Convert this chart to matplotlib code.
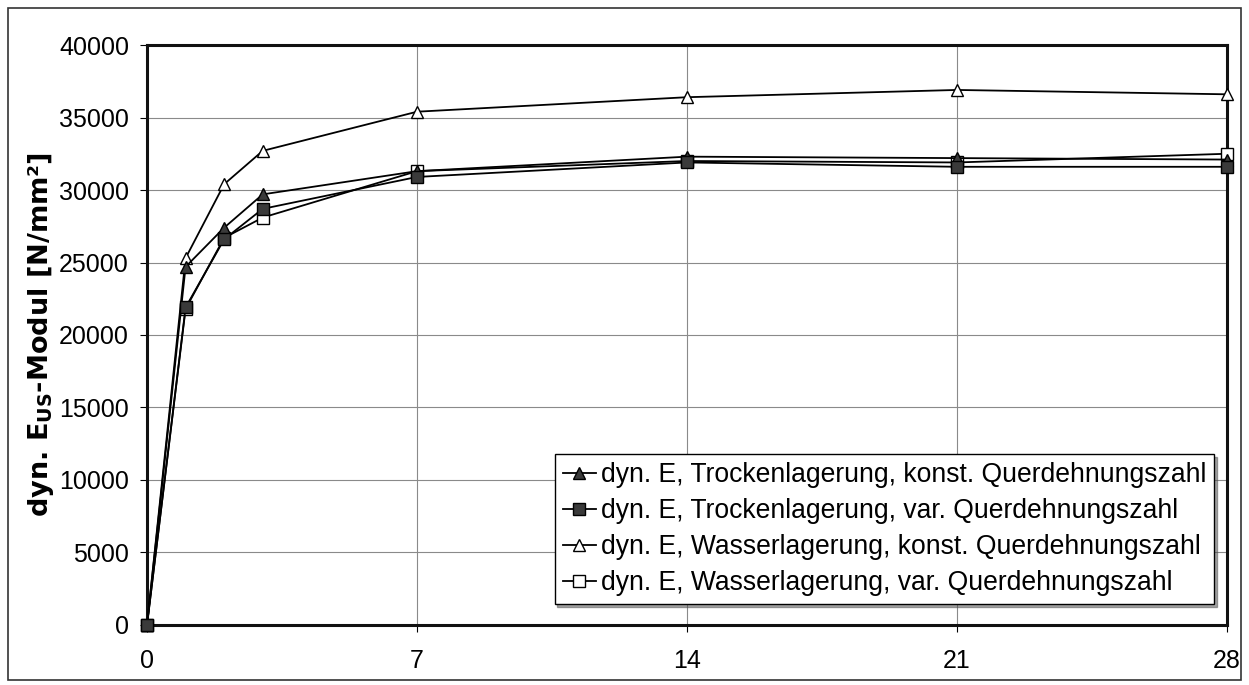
import matplotlib
matplotlib.use("Agg")
import matplotlib.pyplot as plt
from matplotlib.patches import Rectangle

plt.rcParams["font.family"] = ["Liberation Sans", "DejaVu Sans"]
plt.rcParams["mathtext.fontset"] = "custom"
plt.rcParams["mathtext.rm"] = "DejaVu Sans"
plt.rcParams["mathtext.bf"] = "DejaVu Sans:bold"

# Age of the specimens in days
days = [0, 1, 2, 3, 7, 14, 21, 28]

# Dynamic modulus of elasticity in N/mm²
trocken_konst = [0, 24700, 27400, 29700, 31300, 32300, 32200, 32100]
trocken_var = [0, 21900, 26600, 28700, 30900, 31900, 31600, 31600]
wasser_konst = [0, 25300, 30400, 32700, 35400, 36400, 36900, 36600]
wasser_var = [0, 21800, 26700, 28100, 31300, 32000, 31900, 32500]

labels = [
    "dyn. E, Trockenlagerung, konst. Querdehnungszahl",
    "dyn. E, Trockenlagerung, var. Querdehnungszahl",
    "dyn. E, Wasserlagerung, konst. Querdehnungszahl",
    "dyn. E, Wasserlagerung, var. Querdehnungszahl",
]
x_ticks = [0, 7, 14, 21, 28]
y_ticks = list(range(0, 40001, 5000))

fig = plt.figure(figsize=(12.49, 6.85), dpi=100)
ax = fig.add_axes([0.1177, 0.0876, 0.8647, 0.8467])

# (values, marker, face colour, z-order) - filled markers sit on top
styles = [
    (trocken_konst, "^", "#3a3a3a", 5),
    (trocken_var, "s", "#3a3a3a", 6),
    (wasser_konst, "^", "white", 4),
    (wasser_var, "s", "white", 3),
]
for (vals, mk, face, z), lab in zip(styles, labels):
    ax.plot(days, vals, color="black", lw=1.3, marker=mk, markersize=8.5,
            markerfacecolor=face, markeredgecolor="black", markeredgewidth=1.0,
            label=lab, clip_on=False, zorder=z)

ax.set_xlim(0, 28)
ax.set_ylim(0, 40000)
ax.set_xticks(x_ticks)
ax.set_yticks(y_ticks)
ax.tick_params(axis="both", labelsize=18, direction="out", length=5, width=0.8,
               colors="black", pad=8)
ax.tick_params(axis="x", pad=12)

ax.grid(True, color="#8a8a8a", lw=0.8)
ax.set_axisbelow(True)
for sp in ax.spines.values():
    sp.set_linewidth(2.2)
    sp.set_color("#111111")

ax.set_ylabel(r"dyn. E$_{\mathbf{US}}$-Modul [N/mm²]", fontsize=19.5,
              fontweight="bold", family="DejaVu Sans", labelpad=2)

leg = ax.legend(loc="lower left", bbox_to_anchor=(0.444, 0.118),
                bbox_transform=fig.transFigure, borderaxespad=0,
                prop={"size": 19.1}, frameon=True, fancybox=False, shadow=True,
                handlelength=1.25, handletextpad=0.2, labelspacing=0.38,
                borderpad=0.3)
leg.get_frame().set_edgecolor("black")
leg.get_frame().set_linewidth(1.0)

# Outer frame around the whole figure
fig.patches.append(Rectangle((0.0065, 0.007), 0.987, 0.982,
                             transform=fig.transFigure, fill=False,
                             edgecolor="#333333", lw=1.2))

fig.savefig("out.png", dpi=100)
